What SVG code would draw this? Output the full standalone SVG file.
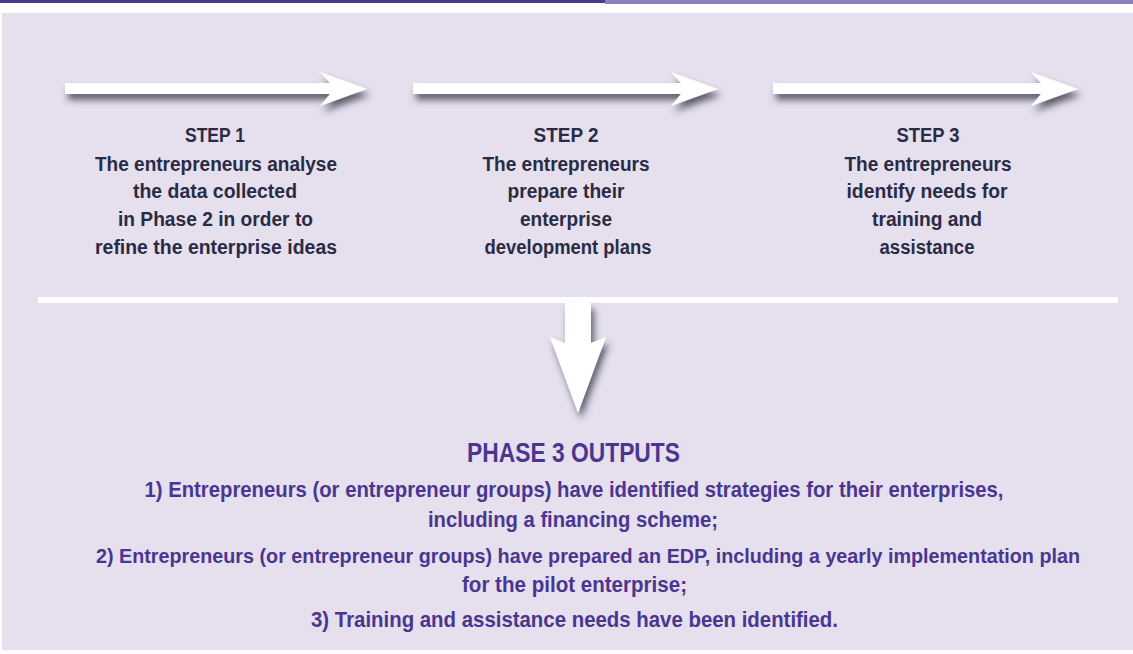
<svg xmlns="http://www.w3.org/2000/svg" width="1133" height="654" viewBox="0 0 1133 654">
<defs>
<filter id="sh" x="-10%" y="-50%" width="130%" height="250%">
<feDropShadow dx="3" dy="6" stdDeviation="3.5" flood-color="#3e3e4e" flood-opacity="0.8"/>
</filter>
<style>
.st{font-family:"Liberation Sans Narrow","Liberation Sans",Arial,sans-serif;font-weight:bold;font-size:20px;fill:#2a2b45;text-anchor:middle}
.out{font-family:"Liberation Sans Narrow","Liberation Sans",Arial,sans-serif;font-weight:bold;font-size:22px;fill:#4a3690;text-anchor:middle}
.hd{font-family:"Liberation Sans Narrow","Liberation Sans",Arial,sans-serif;font-weight:bold;font-size:27px;fill:#4a3690;text-anchor:middle}
.arr{fill:#ffffff;filter:url(#sh)}
</style>
</defs>
<rect x="0" y="0" width="1133" height="654" fill="#ffffff"/>
<rect x="0" y="0" width="605" height="3" fill="#4b3a8c"/>
<rect x="605" y="0" width="528" height="4" fill="#8d7fb8"/>
<rect x="2" y="13" width="1131" height="637" fill="#e5dfee"/>
<g id="connectors">
<path class="arr" d="M65,83 L330,83 L320,72 L367,89 L320,106 L330,94 L65,94 Z"/>
<path class="arr" d="M413,83 L681,83 L671,72 L718,89 L671,106 L681,94 L413,94 Z"/>
<path class="arr" d="M773,83 L1041,83 L1031,72 L1078,89 L1031,106 L1041,94 L773,94 Z"/>
<rect x="38" y="297" width="1080" height="6" fill="#ffffff"/>
<path class="arr" d="M565,303 L591,303 L591,343 L606,337 L578,413 L550,337 L565,343 Z"/>
</g>
<g id="step1">
<text class="st" x="215" y="142" textLength="60" lengthAdjust="spacingAndGlyphs">STEP 1</text>
<text class="st" x="216" y="171" textLength="242" lengthAdjust="spacingAndGlyphs">The entrepreneurs analyse</text>
<text class="st" x="215" y="198" textLength="164" lengthAdjust="spacingAndGlyphs">the data collected</text>
<text class="st" x="215.5" y="226" textLength="195" lengthAdjust="spacingAndGlyphs">in Phase 2 in order to</text>
<text class="st" x="216" y="254" textLength="242" lengthAdjust="spacingAndGlyphs">refine the enterprise ideas</text>
</g>
<g id="step2">
<text class="st" x="566" y="142" textLength="65" lengthAdjust="spacingAndGlyphs">STEP 2</text>
<text class="st" x="566" y="171" textLength="167" lengthAdjust="spacingAndGlyphs">The entrepreneurs</text>
<text class="st" x="566" y="198" textLength="117" lengthAdjust="spacingAndGlyphs">prepare their</text>
<text class="st" x="566" y="226" textLength="92" lengthAdjust="spacingAndGlyphs">enterprise</text>
<text class="st" x="568" y="254" textLength="167" lengthAdjust="spacingAndGlyphs">development plans</text>
</g>
<g id="step3">
<text class="st" x="928" y="142" textLength="63" lengthAdjust="spacingAndGlyphs">STEP 3</text>
<text class="st" x="928" y="171" textLength="167" lengthAdjust="spacingAndGlyphs">The entrepreneurs</text>
<text class="st" x="927" y="198" textLength="161" lengthAdjust="spacingAndGlyphs">identify needs for</text>
<text class="st" x="927" y="226" textLength="110" lengthAdjust="spacingAndGlyphs">training and</text>
<text class="st" x="927" y="254" textLength="95" lengthAdjust="spacingAndGlyphs">assistance</text>
</g>
<g id="outputs">
<text class="hd" x="573.5" y="462" textLength="213" lengthAdjust="spacingAndGlyphs">PHASE 3 OUTPUTS</text>
<text class="out" x="574" y="497" textLength="859" lengthAdjust="spacingAndGlyphs">1) Entrepreneurs (or entrepreneur groups) have identified strategies for their enterprises,</text>
<text class="out" x="573" y="527" textLength="290" lengthAdjust="spacingAndGlyphs">including a financing scheme;</text>
<text class="out" x="588" y="563" textLength="984" lengthAdjust="spacingAndGlyphs" style="font-size:20.5px">2) Entrepreneurs (or entrepreneur groups) have prepared an EDP, including a yearly implementation plan</text>
<text class="out" x="574.5" y="592" textLength="225" lengthAdjust="spacingAndGlyphs">for the pilot enterprise;</text>
<text class="out" x="574.5" y="627" textLength="527" lengthAdjust="spacingAndGlyphs">3) Training and assistance needs have been identified.</text>
</g>
</svg>
